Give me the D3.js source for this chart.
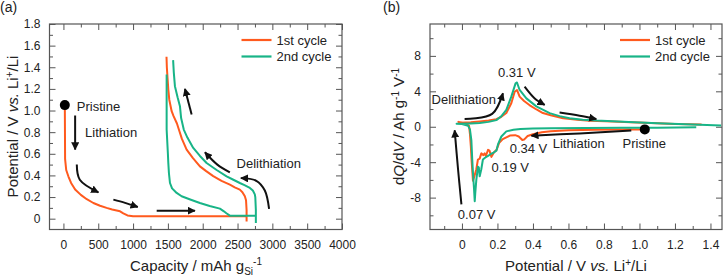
<!DOCTYPE html>
<html><head><meta charset="utf-8">
<script src="https://cdn.jsdelivr.net/npm/d3@7"></script>
<style>
html,body{margin:0;padding:0;background:#fff;}
svg{display:block;font-family:"Liberation Sans",Arial,sans-serif;}
</style></head>
<body>
<svg id="chart" width="723" height="277"></svg>
<script>
// ---------- DATA ----------
const seriesNames = ["1st cycle", "2nd cycle"];
const seriesColors = ["#ff5a1e", "#18b487"];

// Panel (a): capacity (mAh/g) vs potential (V)
const a1Lith = [[20,1.05],[22,0.8],[24,0.55],[40,0.45],[72,0.39],[110,0.33],[168,0.27],[250,0.22],[335,0.18],[430,0.145],[526,0.12],[620,0.1],[700,0.085],[813,0.068],[860,0.05],[920,0.03],[1000,0.022],[2630,0.022]];
const a1Delith = [[2630,-0.025],[2630,0.08],[2622,0.17],[2605,0.207],[2570,0.245],[2533,0.269],[2460,0.29],[2390,0.315],[2270,0.35],[2151,0.394],[2050,0.44],[1960,0.484],[1860,0.56],[1769,0.639],[1700,0.74],[1660,0.82],[1630,0.88],[1580,0.95],[1554,0.994],[1520,1.1],[1506,1.194],[1495,1.3],[1485,1.4],[1480,1.497]];
const a2Lith = [[1482,1.333],[1482,0.824],[1500,0.6],[1506,0.516],[1515,0.42],[1530,0.33],[1560,0.28],[1626,0.238],[1697,0.207],[1830,0.175],[1960,0.145],[2100,0.118],[2247,0.093],[2304,0.068],[2340,0.05],[2390,0.028],[2763,0.028]];
const a2Delith = [[2763,-0.04],[2763,0.083],[2755,0.2],[2748,0.225],[2720,0.26],[2677,0.284],[2600,0.31],[2533,0.33],[2440,0.36],[2343,0.392],[2200,0.45],[2056,0.515],[1960,0.58],[1864,0.654],[1780,0.75],[1728,0.824],[1690,0.93],[1673,1.04],[1640,1.12],[1601,1.225],[1585,1.35],[1575,1.466]];

const aXTicks = [0,500,1000,1500,2000,2500,3000,3500,4000];
const aYTicks = [0,0.2,0.4,0.6,0.8,1.0,1.2,1.4,1.6,1.8];

// Panel (b): potential (V) vs dQ/dV (Ah g-1 V-1)
const b1 = [[1.03,-0.30],[0.90,-0.32],[0.75,-0.35],[0.60,-0.40],[0.50,-0.50],[0.45,-0.62],[0.40,-0.85],[0.37,-1.05],[0.35,-1.45],[0.34,-1.5],[0.32,-1.1],[0.30,-0.95],[0.27,-1.0],[0.25,-1.2],[0.23,-1.4],[0.21,-1.8],[0.195,-2.6],[0.18,-2.9],[0.166,-3.4],[0.155,-2.7],[0.147,-2.6],[0.135,-3.3],[0.128,-3.0],[0.12,-3.2],[0.109,-3.0],[0.1,-3.6],[0.09,-3.7],[0.081,-4.8],[0.07,-5.6],[0.062,-6.1],[0.055,-4.0],[0.05,-2.2],[0.045,-0.8],[0.04,0.1],[0.02,0.4],[-0.02,0.55],
  [-0.01,0.45],[0.05,0.5],[0.1,0.6],[0.15,0.7],[0.194,0.86],[0.22,1.1],[0.25,1.55],[0.278,2.65],[0.297,3.95],[0.31,4.15],[0.325,3.4],[0.35,2.9],[0.38,2.45],[0.42,1.95],[0.456,1.55],[0.5,1.3],[0.57,0.97],[0.65,0.8],[0.72,0.67],[0.85,0.6],[0.95,0.5],[1.1,0.4],[1.2,0.3],[1.35,0.25]];
const b2 = [[1.32,-0.05],[1.1,-0.1],[0.9,-0.12],[0.7,-0.15],[0.5,-0.18],[0.4,-0.2],[0.33,-0.25],[0.29,-0.34],[0.25,-0.52],[0.222,-1.1],[0.203,-2.0],[0.194,-2.7],[0.175,-2.96],[0.16,-3.1],[0.147,-3.3],[0.13,-3.5],[0.118,-3.7],[0.109,-4.8],[0.1,-5.6],[0.095,-4.6],[0.09,-4.5],[0.081,-6.0],[0.075,-7.5],[0.072,-8.4],[0.068,-7.0],[0.062,-5.2],[0.058,-3.7],[0.053,-1.5],[0.045,-0.3],[0.035,0.1],[0.0,0.3],[-0.03,0.35],
  [-0.01,0.35],[0.05,0.38],[0.1,0.42],[0.15,0.55],[0.194,0.75],[0.22,1.15],[0.25,1.9],[0.278,3.4],[0.302,4.9],[0.31,5.0],[0.325,4.15],[0.363,3.2],[0.419,2.3],[0.494,1.54],[0.55,1.2],[0.606,0.97],[0.68,0.8],[0.757,0.7],[0.94,0.55],[1.1,0.4],[1.3,0.25],[1.46,0.15]];

const bXTicks = [0,0.2,0.4,0.6,0.8,1.0,1.2,1.4];
const bYTicks = [-8,-4,0,4,8];

// annotations (data coordinates)
const aPristine = [20,1.05];
const bPristine = [1.03,-0.3];
const aArrows = [
  [[168,0.954],[168,0.639]],
  [[192,0.5],[235,0.36],[502,0.244]],
  [[717,0.176],[885,0.146],[1067,0.108]],
  [[1339,0.074],[1888,0.074]],
  [[2953,0.09],[2892,0.26],[2770,0.35],[2548,0.375]],
  [[2390,0.429],[2210,0.5],[2032,0.614]],
  [[1841,0.963],[1745,1.2]]
];
const bArrows = [
  [[-0.003,-8.76],[-0.022,-4.8],[-0.041,-0.4]],
  [[0.015,0.87],[0.17,1.45],[0.231,3.79]],
  [[0.353,4.53],[0.41,3.2],[0.466,2.47]],
  [[0.55,1.6],[0.663,1.24],[0.757,0.87]],
  [[0.954,-0.42],[0.663,-0.75],[0.391,-1.01]]
];
const aLabels = [["Pristine",192,1.04],["Lithiation",311,0.8],["Delithiation",2486,0.506]];
const bLabels = [["Delithiation",-0.171,3.11],["0.34 V",0.269,-2.5],["0.19 V",0.166,-4.64],["0.07 V",-0.023,-9.89],["Lithiation",0.511,-1.91],["Pristine",0.905,-1.91]];
const bPeakLabel = ["0.31 V",0.309,6.18];

// ---------- DRAW ----------
const svg = d3.select("#chart");
const frameColor = "#555";
const defs = svg.append("defs");
defs.append("marker").attr("id","ah").attr("viewBox","0 0 10 10").attr("refX",9).attr("refY",5)
  .attr("markerWidth",4).attr("markerHeight",4).attr("orient","auto-start-reverse").attr("markerUnits","strokeWidth")
  .append("path").attr("d","M0,0 L10,5 L0,10 Z").attr("fill","#111");

function frame(g, x, y, xTicks, xMinor, yTicks, yMinor, xfmt, yfmt){
  const [x0,x1] = x.range(), [y0,y1] = y.range();
  // bottom
  g.append("g").attr("transform",`translate(0,${y0})`)
    .call(d3.axisBottom(x).tickValues(xTicks).tickSize(-6).tickPadding(11).tickFormat(xfmt))
    .call(s=>{s.select(".domain").remove(); s.selectAll("line").attr("stroke",frameColor);
      s.selectAll("text").attr("font-size",12).attr("fill","#222").attr("font-family","Liberation Sans, Arial, sans-serif");});
  g.append("g").attr("transform",`translate(0,${y0})`)
    .call(d3.axisBottom(x).tickValues(xMinor).tickSize(-3.5).tickFormat(""))
    .call(s=>{s.select(".domain").remove(); s.selectAll("line").attr("stroke",frameColor);});
  // top
  g.append("g").attr("transform",`translate(0,${y1})`)
    .call(d3.axisTop(x).tickValues(xTicks).tickSize(-6).tickFormat(""))
    .call(s=>{s.select(".domain").remove(); s.selectAll("line").attr("stroke",frameColor);});
  g.append("g").attr("transform",`translate(0,${y1})`)
    .call(d3.axisTop(x).tickValues(xMinor).tickSize(-3.5).tickFormat(""))
    .call(s=>{s.select(".domain").remove(); s.selectAll("line").attr("stroke",frameColor);});
  // left
  g.append("g").attr("transform",`translate(${x0},0)`)
    .call(d3.axisLeft(y).tickValues(yTicks).tickSize(-6).tickPadding(9).tickFormat(yfmt))
    .call(s=>{s.select(".domain").remove(); s.selectAll("line").attr("stroke",frameColor);
      s.selectAll("text").attr("font-size",12).attr("fill","#222").attr("font-family","Liberation Sans, Arial, sans-serif");});
  g.append("g").attr("transform",`translate(${x0},0)`)
    .call(d3.axisLeft(y).tickValues(yMinor).tickSize(-3.5).tickFormat(""))
    .call(s=>{s.select(".domain").remove(); s.selectAll("line").attr("stroke",frameColor);});
  // right
  g.append("g").attr("transform",`translate(${x1},0)`)
    .call(d3.axisRight(y).tickValues(yTicks).tickSize(-6).tickFormat(""))
    .call(s=>{s.select(".domain").remove(); s.selectAll("line").attr("stroke",frameColor);});
  g.append("g").attr("transform",`translate(${x1},0)`)
    .call(d3.axisRight(y).tickValues(yMinor).tickSize(-3.5).tickFormat(""))
    .call(s=>{s.select(".domain").remove(); s.selectAll("line").attr("stroke",frameColor);});
  g.append("rect").attr("x",x0).attr("y",y1).attr("width",x1-x0).attr("height",y0-y1)
    .attr("fill","none").attr("stroke",frameColor).attr("stroke-width",1.2);
}

function legend(g, x, ys){
  seriesNames.forEach((n,i)=>{
    g.append("line").attr("x1",x).attr("x2",x+30).attr("y1",ys[i]).attr("y2",ys[i])
      .attr("stroke",seriesColors[i]).attr("stroke-width",2.2);
    g.append("text").attr("x",x+35).attr("y",ys[i]).attr("dominant-baseline","central")
      .attr("font-size",13).attr("fill","#222").text(n);
  });
}

// ===== Panel (a) =====
const xa = d3.scaleLinear().domain([-200,4000]).range([49.5,342]);
const ya = d3.scaleLinear().domain([-0.1,1.8]).range([229.5,24]);
const ga = svg.append("g");
const aXMinor = d3.range(-250,4001,250).filter(v=>v%500!==0 && v>-200);
const aYMinor = d3.range(-1,18,1).map(v=>v/10).filter(v=>Math.round(v*10)%2!==0 && v>-0.1);
frame(ga, xa, ya, aXTicks, aXMinor, aYTicks, aYMinor, d3.format(""), v=> v===0?"0":d3.format(".1f")(v));

const la = d3.line().x(d=>xa(d[0])).y(d=>ya(d[1]));
[[a1Lith,a1Delith],[a2Lith,a2Delith]].forEach((segs,i)=>{
  segs.forEach(s=> ga.append("path").attr("d",la(s)).attr("fill","none")
    .attr("stroke",seriesColors[i]).attr("stroke-width",2).attr("stroke-linejoin","round"));
});
const arrowLineA = d3.line().x(d=>xa(d[0])).y(d=>ya(d[1])).curve(d3.curveCatmullRom);
aArrows.forEach(p=> ga.append("path").attr("d",arrowLineA(p)).attr("fill","none")
  .attr("stroke","#111").attr("stroke-width",2).attr("marker-end","url(#ah)"));
ga.append("circle").attr("cx",xa(aPristine[0])).attr("cy",ya(aPristine[1])).attr("r",5).attr("fill","#000");
aLabels.forEach(l=> ga.append("text").attr("x",xa(l[1])).attr("y",ya(l[2])).attr("dominant-baseline","central")
  .attr("font-size",13).attr("fill","#222").text(l[0]));
legend(ga, 241.5, [40,56.5]);

// titles (a)
svg.append("text").attr("x",0).attr("y",12).attr("font-size",14).attr("fill","#222").text("(a)");
const ta = svg.append("text").attr("transform","translate(18,126.5) rotate(-90)").attr("text-anchor","middle")
  .attr("font-size",15).attr("fill","#222");
ta.append("tspan").text("Potential / V ");
ta.append("tspan").attr("font-style","italic").text("vs.");
ta.append("tspan").text(" Li");
ta.append("tspan").attr("dy",-5).attr("font-size",10).text("+");
ta.append("tspan").attr("dy",5).text("/Li");
const xta = svg.append("text").attr("x",196).attr("y",271).attr("text-anchor","middle").attr("font-size",15).attr("fill","#222");
xta.append("tspan").text("Capacity / mAh g");
xta.append("tspan").attr("dy",4).attr("font-size",10).text("Si");
xta.append("tspan").attr("dy",-10).attr("font-size",10).text("-1");

// ===== Panel (b) =====
const xb = d3.scaleLinear().domain([-0.18,1.465]).range([430,722]);
const yb = d3.scaleLinear().domain([-11.6,11.6]).range([229.5,24]);
const gb = svg.append("g");
const bXMinor = d3.range(-1,15,1).map(v=>v/10).filter(v=>Math.round(v*10)%2!==0);
const bYMinor = [-10,-6,-2,2,6,10];
frame(gb, xb, yb, bXTicks, bXMinor, bYTicks, bYMinor, v=> v===0?"0":d3.format(".1f")(v), v=> v<0?"-"+Math.abs(v):String(v));

const lb = d3.line().x(d=>xb(d[0])).y(d=>yb(d[1]));
[b1,b2].forEach((s,i)=> gb.append("path").attr("d",lb(s)).attr("fill","none")
  .attr("stroke",seriesColors[i]).attr("stroke-width",2).attr("stroke-linejoin","round"));
const arrowLineB = d3.line().x(d=>xb(d[0])).y(d=>yb(d[1])).curve(d3.curveCatmullRom);
bArrows.forEach(p=> gb.append("path").attr("d",arrowLineB(p)).attr("fill","none")
  .attr("stroke","#111").attr("stroke-width",2).attr("marker-end","url(#ah)"));
gb.append("circle").attr("cx",xb(bPristine[0])).attr("cy",yb(bPristine[1])).attr("r",5).attr("fill","#000");
bLabels.forEach(l=> gb.append("text").attr("x",xb(l[1])).attr("y",yb(l[2])).attr("dominant-baseline","central")
  .attr("font-size",13).attr("fill","#222").text(l[0]));
gb.append("text").attr("x",xb(bPeakLabel[1])).attr("y",yb(bPeakLabel[2])).attr("text-anchor","middle")
  .attr("dominant-baseline","central").attr("font-size",13).attr("fill","#222").text(bPeakLabel[0]);
legend(gb, 620, [40,56.5]);

svg.append("text").attr("x",383).attr("y",12).attr("font-size",14).attr("fill","#222").text("(b)");
const tb = svg.append("text").attr("transform","translate(404,126.5) rotate(-90)").attr("text-anchor","middle")
  .attr("font-size",15).attr("fill","#222");
tb.append("tspan").text("d");
tb.append("tspan").attr("font-style","italic").text("Q");
tb.append("tspan").text("/d");
tb.append("tspan").attr("font-style","italic").text("V");
tb.append("tspan").text(" / Ah g");
tb.append("tspan").attr("dy",-5).attr("font-size",10).text("-1");
tb.append("tspan").attr("dy",5).text(" V");
tb.append("tspan").attr("dy",-5).attr("font-size",10).text("-1");
const xtb = svg.append("text").attr("x",576).attr("y",271).attr("text-anchor","middle").attr("font-size",15).attr("fill","#222");
xtb.append("tspan").text("Potential / V ");
xtb.append("tspan").attr("font-style","italic").text("vs.");
xtb.append("tspan").text(" Li");
xtb.append("tspan").attr("dy",-5).attr("font-size",10).text("+");
xtb.append("tspan").attr("dy",5).text("/Li");
</script>
</body></html>
